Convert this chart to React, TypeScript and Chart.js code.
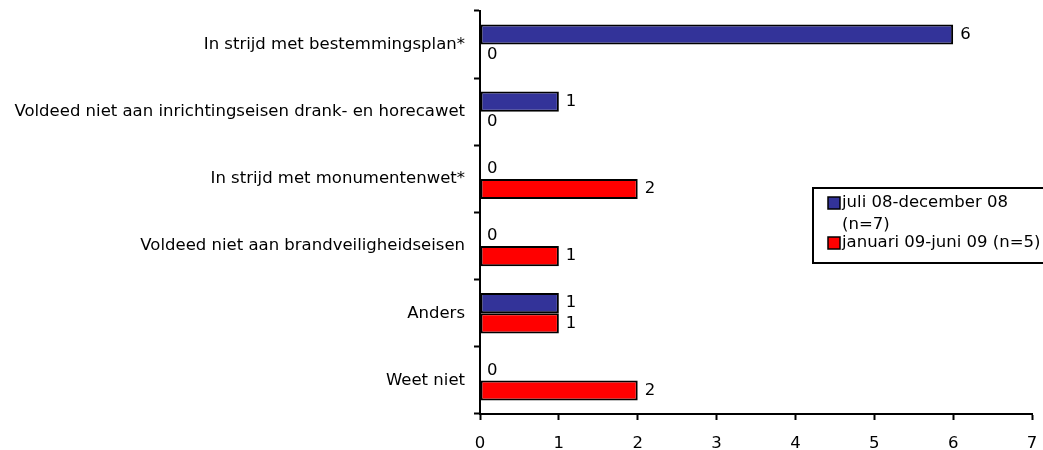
import React, { useEffect, useRef } from "react";
import { Chart, registerables } from "chart.js";

Chart.register(...registerables);

const categories = [
  "In strijd met bestemmingsplan*",
  "Voldeed niet aan inrichtingseisen drank- en horecawet",
  "In strijd met monumentenwet*",
  "Voldeed niet aan brandveiligheidseisen",
  "Anders",
  "Weet niet",
];
const seriesNames = ["juli 08-december 08", "januari 09-juni 09 (n=5)"];
const legendLines = [["juli 08-december 08", "(n=7)"], ["januari 09-juni 09 (n=5)"]];
const juli08dec08 = [6, 1, 0, 0, 1, 0];
const jan09jun09 = [0, 0, 2, 1, 1, 2];
const xTicks = [0, 1, 2, 3, 4, 5, 6, 7];

const BLUE = "#333399";
const RED = "#FF0000";
const FONT = "'DejaVu Sans', sans-serif";
const FSIZE = 16.5;

const valueLabels = {
  id: "valueLabels",
  afterDatasetsDraw(chart: any) {
    const ctx = chart.ctx;
    ctx.save();
    ctx.font = `${FSIZE}px ${FONT}`;
    ctx.fillStyle = "#000";
    ctx.textAlign = "left";
    ctx.textBaseline = "middle";
    chart.data.datasets.forEach((ds: any, di: number) => {
      const meta = chart.getDatasetMeta(di);
      meta.data.forEach((el: any, i: number) => {
        ctx.fillText(String(ds.data[i]), el.x + 7, el.y);
      });
    });
    ctx.restore();
  },
};

const boxLegend = {
  id: "boxLegend",
  afterDraw(chart: any) {
    const ctx = chart.ctx;
    const colors = [BLUE, RED];
    const left = chart.width - 230;
    const top = 188;
    ctx.save();
    ctx.fillStyle = "#fff";
    ctx.fillRect(left, top, 240, 75);
    ctx.lineWidth = 2;
    ctx.strokeStyle = "#000";
    ctx.strokeRect(left, top, 240, 75);
    ctx.font = `${FSIZE}px ${FONT}`;
    ctx.textAlign = "left";
    ctx.textBaseline = "middle";
    const rows = [[15, 37], [55]];
    legendLines.forEach((lines, si) => {
      const y0 = top + rows[si][0];
      ctx.fillStyle = colors[si];
      ctx.fillRect(left + 15, y0 - 6, 12, 12);
      ctx.lineWidth = 1.5;
      ctx.strokeRect(left + 15, y0 - 6, 12, 12);
      ctx.fillStyle = "#000";
      lines.forEach((ln, li) => {
        ctx.fillText(ln, left + 29, top + rows[si][li]);
      });
    });
    ctx.restore();
  },
};

export default function App() {
  const ref = useRef<HTMLCanvasElement>(null);
  useEffect(() => {
    const chart = new Chart(ref.current!, {
      type: "bar",
      data: {
        labels: categories,
        datasets: [
          {
            label: seriesNames[0],
            data: juli08dec08,
            backgroundColor: BLUE,
            borderColor: "#000",
            borderWidth: 2,
            borderSkipped: false,
          },
          {
            label: seriesNames[1],
            data: jan09jun09,
            backgroundColor: RED,
            borderColor: "#000",
            borderWidth: 2,
            borderSkipped: false,
          },
        ],
      },
      options: {
        indexAxis: "y",
        animation: false,
        responsive: true,
        maintainAspectRatio: false,
        layout: { padding: { top: 11, right: 11, left: 0, bottom: 0 } },
        datasets: { bar: { categoryPercentage: 0.6, barPercentage: 1 } },
        plugins: { legend: { display: false }, tooltip: { enabled: false } },
        scales: {
          x: {
            min: 0,
            max: 7,
            afterBuildTicks: (s: any) => {
              s.ticks = xTicks.map((v) => ({ value: v }));
            },
            grid: { drawOnChartArea: false, tickLength: 6, tickColor: "#000", tickWidth: 2 },
            border: { color: "#000", width: 2 },
            ticks: { color: "#000", font: { family: FONT, size: FSIZE }, padding: 14 },
            afterFit: (s: any) => {
              s.height = 36;
              s.paddingLeft = 0;
              s.paddingRight = 0;
            },
          },
          y: {
            grid: { drawOnChartArea: false, tickLength: 6, tickColor: "#000", tickWidth: 2, offset: true },
            border: { color: "#000", width: 2 },
            ticks: { color: "#000", font: { family: FONT, size: FSIZE }, padding: 9, autoSkip: false },
            afterFit: (s: any) => {
              s.width = 480;
              s.paddingTop = 0;
              s.paddingBottom = 0;
            },
          },
        },
      },
      plugins: [valueLabels, boxLegend],
    });
    return () => chart.destroy();
  }, []);
  return (
    <div style={{ position: "absolute", left: 0, top: 0, width: 1043, height: 450 }}>
      <canvas ref={ref} />
    </div>
  );
}
